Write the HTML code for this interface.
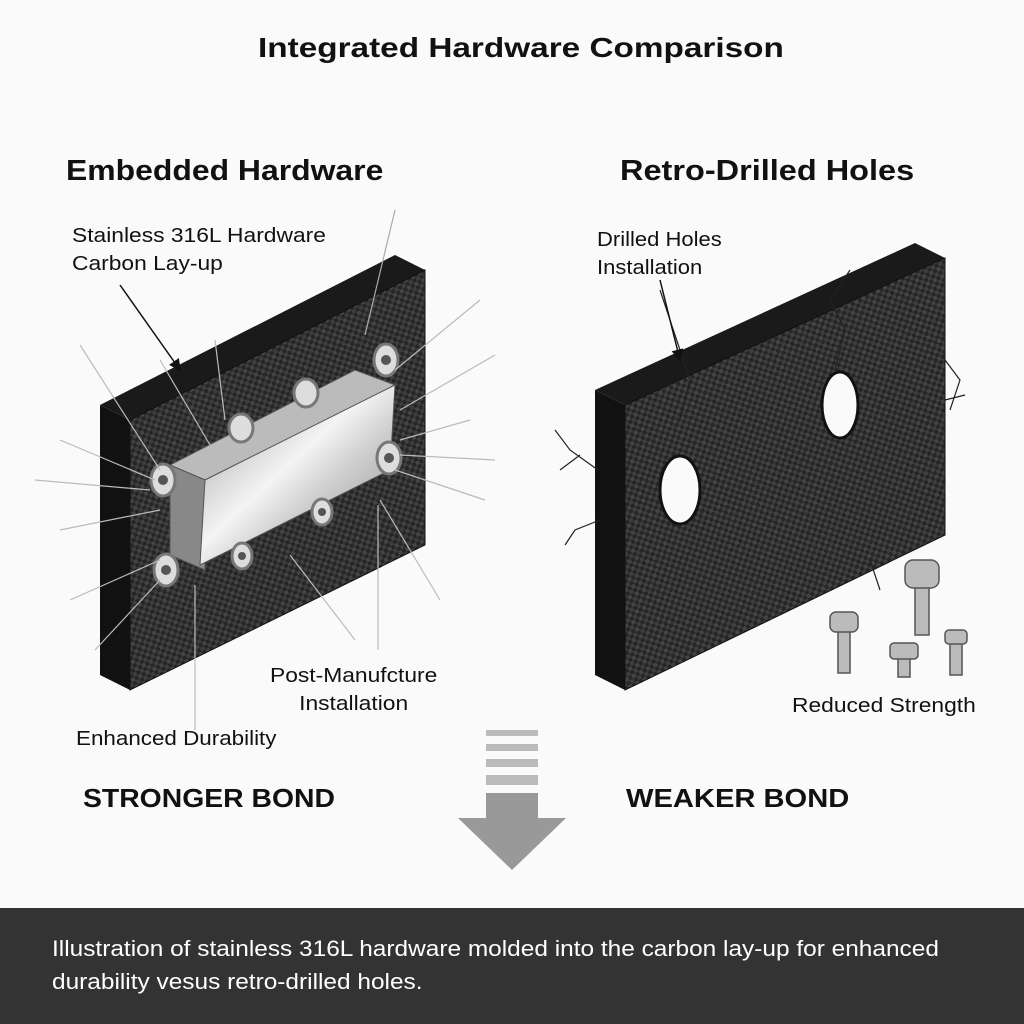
<!DOCTYPE html>
<html><head><meta charset="utf-8"><style>
body{margin:0;width:1024px;height:1024px;background:#fafafa;overflow:hidden;font-family:"Liberation Sans",sans-serif;position:relative}
.t{position:absolute;white-space:nowrap;color:#111;transform-origin:0 0}
</style></head><body>
<svg width="1024" height="1024" style="position:absolute;left:0;top:0">
<defs>
<pattern id="cf" width="8" height="8" patternUnits="userSpaceOnUse" patternTransform="rotate(-27)">
<rect width="8" height="8" fill="#262626"/><rect width="4" height="4" fill="#444"/><rect x="4" y="4" width="4" height="4" fill="#3e3e3e"/>
</pattern>
<linearGradient id="steel" x1="0" y1="0" x2="1" y2="1"><stop offset="0" stop-color="#9a9a9a"/><stop offset=".45" stop-color="#f4f4f4"/><stop offset=".6" stop-color="#d0d0d0"/><stop offset="1" stop-color="#8a8a8a"/></linearGradient>
<marker id="ah" markerWidth="8" markerHeight="8" refX="7" refY="4" orient="auto"><path d="M0,0 L8,4 L0,8z" fill="#111"/></marker>
</defs>
<polygon points="100,405 395,255 425,270 130,420" fill="#1a1a1a"/>
<polygon points="100,405 130,420 130,690 100,675" fill="#111"/>
<polygon points="130,420 425,270 425,545 130,690" fill="url(#cf)" stroke="#111"/>
<polygon points="170,465 355,370 395,385 205,480" fill="#bbb" stroke="#555"/>
<polygon points="170,465 205,480 205,570 170,555" fill="#888" stroke="#555"/>
<polygon points="205,480 395,385 390,470 200,565" fill="url(#steel)" stroke="#555"/>
<g fill="#ddd" stroke="#777" stroke-width="3">
<ellipse cx="163" cy="480" rx="12" ry="16"/><ellipse cx="386" cy="360" rx="12" ry="16"/><ellipse cx="389" cy="458" rx="12" ry="16"/>
<ellipse cx="166" cy="570" rx="12" ry="16"/><ellipse cx="241" cy="428" rx="12" ry="14"/><ellipse cx="306" cy="393" rx="12" ry="14"/>
<ellipse cx="322" cy="512" rx="10" ry="13"/><ellipse cx="242" cy="556" rx="10" ry="13"/>
</g>
<g fill="#555"><circle cx="163" cy="480" r="5"/><circle cx="386" cy="360" r="5"/><circle cx="389" cy="458" r="5"/><circle cx="166" cy="570" r="5"/><circle cx="322" cy="512" r="4"/><circle cx="242" cy="556" r="4"/></g>
<line x1="120" y1="285" x2="180" y2="370" stroke="#111" stroke-width="1.5" marker-end="url(#ah)"/>
<line x1="395" y1="210" x2="365" y2="335" stroke="#aaa" stroke-width="1.2"/>
<g stroke="#bbb" stroke-width="1.2" fill="none">
<line x1="80" y1="345" x2="160" y2="470"/><line x1="60" y1="440" x2="155" y2="480"/><line x1="35" y1="480" x2="150" y2="490"/>
<line x1="60" y1="530" x2="160" y2="510"/><line x1="70" y1="600" x2="160" y2="560"/><line x1="95" y1="650" x2="160" y2="580"/>
<line x1="480" y1="300" x2="395" y2="370"/><line x1="495" y1="355" x2="400" y2="410"/><line x1="470" y1="420" x2="400" y2="440"/>
<line x1="495" y1="460" x2="400" y2="455"/><line x1="485" y1="500" x2="395" y2="470"/><line x1="440" y1="600" x2="380" y2="500"/>
<line x1="355" y1="640" x2="290" y2="555"/><line x1="378" y1="650" x2="378" y2="505"/><line x1="195" y1="730" x2="195" y2="585"/>
<line x1="160" y1="360" x2="210" y2="445"/><line x1="215" y1="340" x2="225" y2="420"/>
</g>
<polygon points="595,390 915,243 945,258 625,405" fill="#1a1a1a"/>
<polygon points="595,390 625,405 625,690 595,675" fill="#111"/>
<polygon points="625,405 945,258 945,535 625,690" fill="url(#cf)" stroke="#111"/>
<ellipse cx="680" cy="490" rx="20" ry="34" fill="#fafafa" stroke="#111" stroke-width="3"/>
<ellipse cx="840" cy="405" rx="18" ry="33" fill="#fafafa" stroke="#111" stroke-width="3"/>
<g stroke="#222" stroke-width="1.2" fill="none">
<path d="M598,470 L570,450 L555,430 M580,455 L560,470"/><path d="M600,520 L575,530 L565,545"/><path d="M850,270 L830,300 L845,330 L835,370"/>
<path d="M945,360 L960,380 L950,410 M945,400 L965,395"/><path d="M660,290 L690,380 L680,420"/><path d="M870,560 L880,590"/>
</g>
<line x1="660" y1="280" x2="680" y2="360" stroke="#111" stroke-width="1.5" marker-end="url(#ah)"/>
<g fill="#bbb" stroke="#555" stroke-width="1.5">
<rect x="915" y="585" width="14" height="50"/><rect x="905" y="560" width="34" height="28" rx="8"/>
<rect x="838" y="628" width="12" height="45"/><rect x="830" y="612" width="28" height="20" rx="6"/>
<rect x="898" y="655" width="12" height="22"/><rect x="890" y="643" width="28" height="16" rx="4"/>
<rect x="950" y="640" width="12" height="35"/><rect x="945" y="630" width="22" height="14" rx="4"/>
</g>
<g fill="#bbb"><rect x="486" y="730" width="52" height="6"/><rect x="486" y="744" width="52" height="7"/><rect x="486" y="759" width="52" height="8"/><rect x="486" y="775" width="52" height="10"/><rect x="486" y="793" width="52" height="25" fill="#999"/></g>
<polygon points="458,818 566,818 512,870" fill="#999"/>
<rect x="0" y="908" width="1024" height="116" fill="#333"/>
</svg>
<div class="t" style="left:258px;top:32px;font-size:28px;font-weight:bold;transform:scaleX(1.19)">Integrated Hardware Comparison</div>
<div class="t" style="left:66px;top:155px;font-size:29px;font-weight:bold;transform:scaleX(1.1)">Embedded Hardware</div>
<div class="t" style="left:620px;top:155px;font-size:29px;font-weight:bold;transform:scaleX(1.12)">Retro-Drilled Holes</div>
<div class="t" style="left:72px;top:222px;font-size:20px;line-height:28px;transform:scaleX(1.14)">Stainless 316L Hardware<br>Carbon Lay-up</div>
<div class="t" style="left:597px;top:226px;font-size:20px;line-height:28px;transform:scaleX(1.1)">Drilled Holes<br>Installation</div>
<div class="t" style="left:270px;top:662px;font-size:20px;line-height:28px;text-align:center;transform:scaleX(1.14)">Post-Manufcture<br>Installation</div>
<div class="t" style="left:76px;top:728px;font-size:20px;transform:scaleX(1.12)">Enhanced Durability</div>
<div class="t" style="left:792px;top:695px;font-size:20px;transform:scaleX(1.14)">Reduced Strength</div>
<div class="t" style="left:83px;top:783px;font-size:26px;font-weight:bold;transform:scaleX(1.09)">STRONGER BOND</div>
<div class="t" style="left:626px;top:783px;font-size:26px;font-weight:bold;transform:scaleX(1.12)">WEAKER BOND</div>
<div class="t" style="left:52px;top:932px;font-size:22px;line-height:33px;color:#fff;transform:scaleX(1.11)">Illustration of stainless 316L hardware molded into the carbon lay-up for enhanced<br>durability vesus retro-drilled holes.</div>
</body></html>
